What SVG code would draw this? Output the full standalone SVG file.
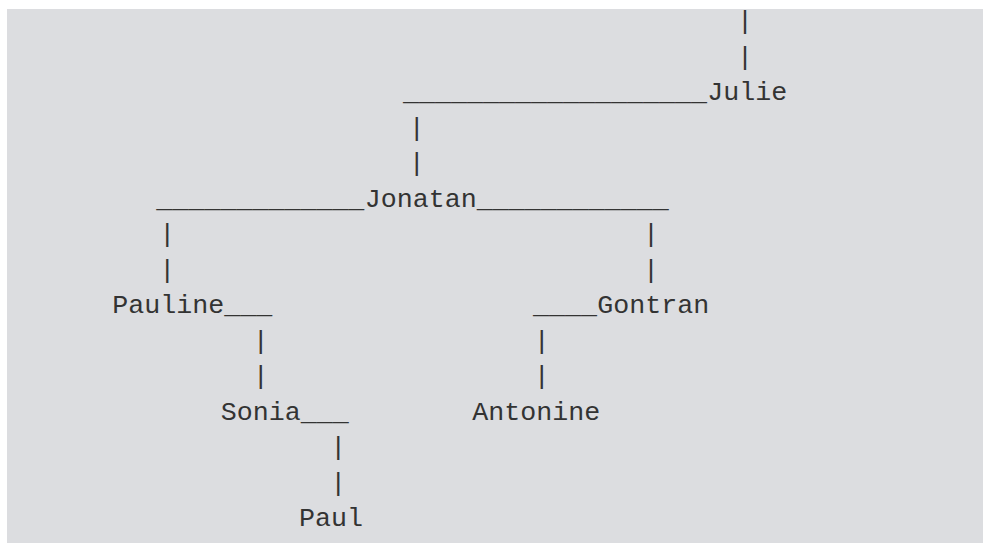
<svg xmlns="http://www.w3.org/2000/svg" width="983" height="543" viewBox="0 0 983 543">
<style>
text { font-family: "Liberation Mono", "Courier New", monospace; font-size: 26.67px; fill: #333333; }
</style>
<rect x="0" y="0" width="983" height="543" fill="#ffffff"/>
<rect x="7" y="9" width="976" height="534" fill="#dcdde0"/>
<g id="connectors">
<text x="737" y="29">|</text>
<text x="737" y="64.5">|</text>
<text x="403" y="100">___________________</text>
<text x="408.7" y="135.5">|</text>
<text x="408.7" y="171">|</text>
<text x="156.3" y="206.5">_____________</text>
<text x="476.7" y="206.5">____________</text>
<text x="159.3" y="242">|</text>
<text x="159.3" y="277.5">|</text>
<text x="643" y="242">|</text>
<text x="643" y="277.5">|</text>
<text x="224.3" y="313">___</text>
<text x="533" y="313">____</text>
<text x="252.7" y="348.5">|</text>
<text x="252.7" y="384">|</text>
<text x="533.7" y="348.5">|</text>
<text x="533.7" y="384">|</text>
<text x="300.7" y="419.5">___</text>
<text x="330.3" y="455">|</text>
<text x="330.3" y="490.5">|</text>
</g>
<g id="julie"><text x="707.3" y="100">Julie</text></g>
<g id="jonatan"><text x="364.7" y="206.5">Jonatan</text></g>
<g id="pauline"><text x="112.3" y="313">Pauline</text></g>
<g id="gontran"><text x="597.3" y="313">Gontran</text></g>
<g id="sonia"><text x="220.7" y="419.5">Sonia</text></g>
<g id="antonine"><text x="472.3" y="419.5">Antonine</text></g>
<g id="paul"><text x="299" y="526">Paul</text></g>
</svg>
